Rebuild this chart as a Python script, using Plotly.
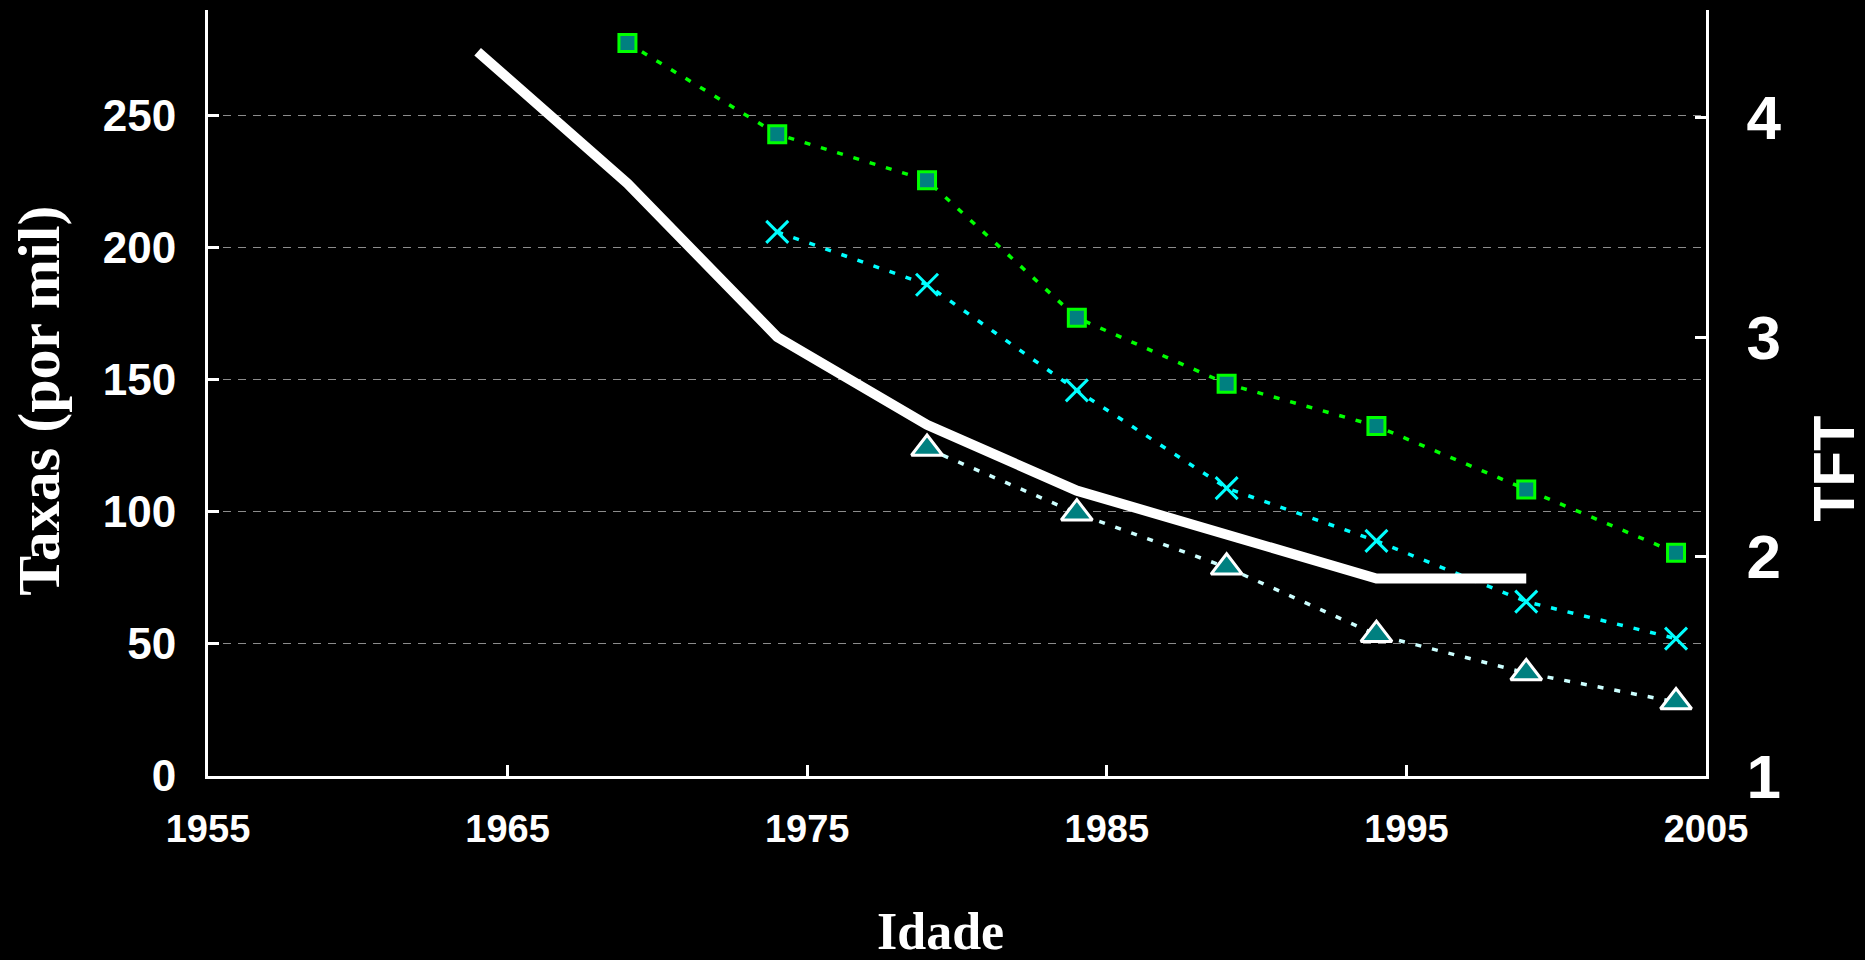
import plotly.graph_objects as go

# ---- data ----
years_tft = [1964, 1969, 1974, 1979, 1984, 1989, 1994, 1999]
tft = [4.3, 3.7, 3.0, 2.6, 2.3, 2.1, 1.9, 1.9]

years_sq = [1969, 1974, 1979, 1984, 1989, 1994, 1999, 2004]
taxa_sq = [277.5, 243, 225.5, 173.5, 148.5, 132.5, 108.5, 84.5]

years_x = [1974, 1979, 1984, 1989, 1994, 1999, 2004]
taxa_x = [206, 186, 146, 109, 89, 66, 52]

years_tri = [1979, 1984, 1989, 1994, 1999, 2004]
taxa_tri = [124, 99.5, 79, 53.5, 39, 28]

x_ticks = [1955, 1965, 1975, 1985, 1995, 2005]
y_ticks = [0, 50, 100, 150, 200, 250]
y2_ticks = [1, 2, 3, 4]

fig = go.Figure()

fig.add_trace(go.Scatter(
    x=years_tft, y=tft, yaxis="y2", mode="lines",
    line=dict(color="white", width=10), showlegend=False, hoverinfo="skip"))

fig.add_trace(go.Scatter(
    x=years_tri, y=taxa_tri, mode="lines+markers",
    line=dict(color="#ccffff", width=3.5, dash="6px,11px"),
    marker=dict(symbol="triangle-up", size=27, color="#008080",
                line=dict(color="white", width=3)),
    showlegend=False))

fig.add_trace(go.Scatter(
    x=years_x, y=taxa_x, mode="lines+markers",
    line=dict(color="#00ffff", width=3.5, dash="6px,11px"),
    marker=dict(symbol="x-thin", size=22, color="#00ffff",
                line=dict(color="#00ffff", width=3)),
    showlegend=False))

fig.add_trace(go.Scatter(
    x=years_sq, y=taxa_sq, mode="lines+markers",
    line=dict(color="#00ff00", width=3.5, dash="6px,11px"),
    marker=dict(symbol="square", size=17, color="#008080",
                line=dict(color="#00ff00", width=3)),
    showlegend=False))

tickfont_x = dict(family="Liberation Sans", size=38, color="white", weight="bold")
tickfont_y = dict(family="Liberation Sans", size=44, color="white", weight="bold")
tickfont_y2 = dict(family="Liberation Sans", size=62, color="white", weight="bold")

fig.update_layout(
    width=1865, height=960,
    margin=dict(l=208, r=159, t=10, b=184),
    paper_bgcolor="black", plot_bgcolor="black",
    xaxis=dict(range=[1955, 2005], tickvals=x_ticks, ticks="inside", ticklen=11,
               tickwidth=3, tickcolor="white", showline=True, linecolor="white",
               linewidth=3, showgrid=False, zeroline=False, tickfont=tickfont_x,
               ticklabelstandoff=17),
    yaxis=dict(range=[0, 290], tickvals=y_ticks, ticks="inside", ticklen=11,
               tickwidth=3, tickcolor="white", showline=True, linecolor="white",
               linewidth=3, showgrid=True, gridcolor="#8c8c8c", gridwidth=1.2,
               griddash="8px,7px", zeroline=False, tickfont=tickfont_y,
               ticklabelstandoff=20),
    yaxis2=dict(range=[1, 4.49], tickvals=y2_ticks, overlaying="y", side="right",
                ticks="inside", ticklen=11, tickwidth=3, tickcolor="white",
                showline=True, linecolor="white", linewidth=3, showgrid=False,
                zeroline=False, tickfont=tickfont_y2, ticklabelstandoff=25),
    annotations=[
        dict(text="Idade", xref="paper", yref="paper", x=0.4887, y=0, yshift=-155,
             showarrow=False, xanchor="center", yanchor="middle",
             font=dict(family="Liberation Serif", size=52, color="white", weight="bold")),
        dict(text="Taxas (por mil)", xref="paper", yref="paper", x=0, xshift=-169,
             y=0.49, textangle=-90, showarrow=False, xanchor="center", yanchor="middle",
             font=dict(family="Liberation Serif", size=60, color="white", weight="bold")),
        dict(text="TFT", xref="paper", yref="paper", x=1, xshift=128,
             y=0.401, textangle=-90, showarrow=False, xanchor="center", yanchor="middle",
             font=dict(family="Liberation Sans", size=58, color="white", weight="bold")),
    ],
)

fig.write_html("out.html",
               config={"displayModeBar": False},
               post_script="document.body.style.margin='0px';"
                           "document.body.style.background='black';")
